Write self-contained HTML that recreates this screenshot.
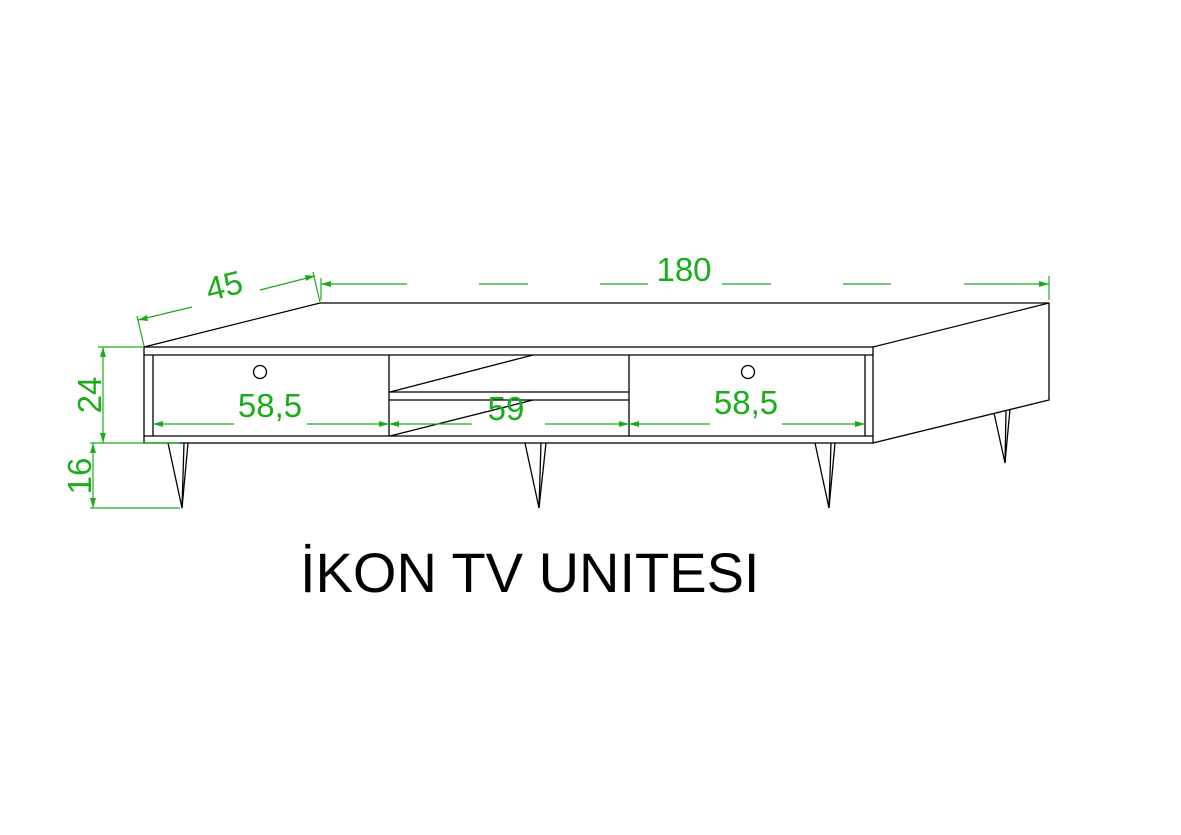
<!DOCTYPE html>
<html><head><meta charset="utf-8"><style>
html,body{margin:0;padding:0;background:#fff;}
svg{display:block;}
text{font-family:"Liberation Sans",sans-serif;}
</style></head><body>
<svg width="1181" height="835" viewBox="0 0 1181 835" xmlns="http://www.w3.org/2000/svg">
<g stroke="#000" stroke-width="1.3" fill="none">
<polyline points="144,347 320,303 1049,303 1049,400 873,443"/>
<line x1="873" y1="347" x2="1049" y2="303"/>
<rect x="144" y="347" width="729" height="96"/>
<line x1="144" y1="355" x2="873" y2="355"/>
<line x1="144" y1="436" x2="873" y2="436"/>
<line x1="153" y1="355" x2="153" y2="436"/>
<line x1="865" y1="355" x2="865" y2="436"/>
<line x1="389" y1="355" x2="389" y2="436"/>
<line x1="629" y1="355" x2="629" y2="436"/>
<line x1="389" y1="392" x2="629" y2="392"/>
<line x1="389" y1="400" x2="629" y2="400"/>
<line x1="390" y1="392" x2="533" y2="355"/>
<line x1="390" y1="436" x2="533" y2="400"/>
<circle cx="260" cy="372" r="6.5"/>
<circle cx="748" cy="372" r="6.5"/>
<polyline points="168,443 182,508 188,443"/>
<line x1="182" y1="508" x2="184" y2="443"/>
<polyline points="525,443 539,508 546,443"/>
<line x1="539" y1="508" x2="541" y2="443"/>
<polyline points="815,443 829,508 835,443"/>
<line x1="829" y1="508" x2="831" y2="443"/>
<polyline points="994,413 1005,463 1010,409"/>
<line x1="1005" y1="463" x2="1006" y2="411"/>
</g>
<g stroke="#1aad1a" stroke-width="1.2" fill="none">
<line x1="321" y1="284" x2="407" y2="284"/>
<line x1="479" y1="284" x2="528" y2="284"/>
<line x1="600" y1="284" x2="648" y2="284"/>
<line x1="722" y1="284" x2="771" y2="284"/>
<line x1="843" y1="284" x2="891" y2="284"/>
<line x1="964" y1="284" x2="1049" y2="284"/>
<line x1="1049" y1="276" x2="1049" y2="300"/>
<line x1="321" y1="278" x2="321" y2="300"/>
<line x1="138" y1="320" x2="192" y2="307"/>
<line x1="260" y1="290" x2="315" y2="276"/>
<line x1="137" y1="316" x2="144" y2="346"/>
<line x1="313" y1="272" x2="320" y2="302"/>
<line x1="98" y1="347" x2="144" y2="347"/>
<line x1="90" y1="443" x2="180" y2="443"/>
<line x1="90" y1="508" x2="180" y2="508"/>
<line x1="103" y1="347" x2="103" y2="443"/>
<line x1="93" y1="443" x2="93" y2="508"/>
<line x1="153" y1="424" x2="234" y2="424"/>
<line x1="307" y1="424" x2="389" y2="424"/>
<line x1="389" y1="424" x2="472" y2="424"/>
<line x1="545" y1="424" x2="629" y2="424"/>
<line x1="629" y1="424" x2="710" y2="424"/>
<line x1="782" y1="424" x2="865" y2="424"/>
</g>
<g fill="#1aad1a">
<polygon points="321,284 331,281 331,287"/>
<polygon points="1049,284 1039,281 1039,287"/>
<polygon points="138,320 147,315 148,321"/>
<polygon points="315,276 306,281 305,275"/>
<polygon points="103,347 100,357 106,357"/>
<polygon points="103,443 100,433 106,433"/>
<polygon points="93,443 90,453 96,453"/>
<polygon points="93,508 90,498 96,498"/>
<polygon points="153,424 163,421 163,427"/>
<polygon points="389,424 379,421 379,427"/>
<polygon points="389,424 399,421 399,427"/>
<polygon points="629,424 619,421 619,427"/>
<polygon points="629,424 639,421 639,427"/>
<polygon points="865,424 855,421 855,427"/>
</g>
<g fill="#1aad1a" font-size="33">
<text x="684" y="281" text-anchor="middle">180</text>
<text x="224" y="297" text-anchor="middle" transform="rotate(-14 224 285)">45</text>
<text x="270" y="417" text-anchor="middle">58,5</text>
<text x="506" y="420" text-anchor="middle">59</text>
<text x="746" y="414" text-anchor="middle">58,5</text>
<text transform="translate(101,395) rotate(-90)" text-anchor="middle">24</text>
<text transform="translate(91,476) rotate(-90)" text-anchor="middle">16</text>
</g>
<text x="300" y="592" font-size="56" fill="#000">İKON TV UNITESI</text>
</svg>
</body></html>
